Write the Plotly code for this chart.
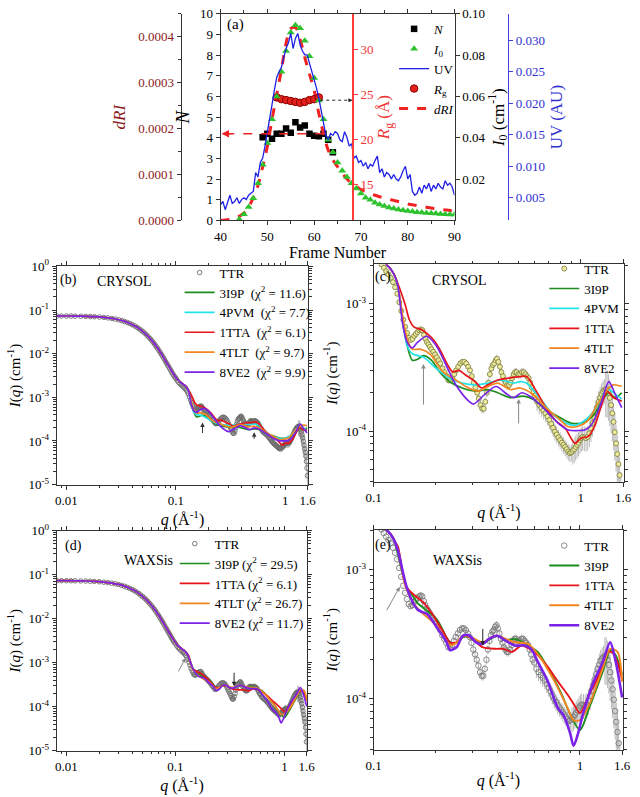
import math
import plotly.graph_objects as go

W, H = 640, 797
FONT = "Liberation Serif, Times New Roman, serif"


def px(x):
    return x / W


def py(y):
    return 1 - y / H


# ---------------- panel (a) data ----------------
UV_FRAMES = [40 + 0.5 * i for i in range(101)]
UV = [0.0039, 0.0044, 0.0031, 0.0041, 0.0054, 0.0041, 0.0044, 0.0050, 0.0041, 0.0047,
      0.0050, 0.0047, 0.0054, 0.0057, 0.0060, 0.0090, 0.0083, 0.0106, 0.0113, 0.0132,
      0.0152, 0.0178, 0.0198, 0.0221, 0.0241, 0.0250, 0.0257, 0.0273, 0.0287, 0.0296,
      0.0311, 0.0287, 0.0303, 0.0311, 0.0293, 0.0283, 0.0277, 0.0277, 0.0264, 0.0250,
      0.0241, 0.0224, 0.0208, 0.0188, 0.0168, 0.0149, 0.0142, 0.0152, 0.0149, 0.0155,
      0.0152, 0.0142, 0.0139, 0.0155, 0.0146, 0.0132, 0.0136, 0.0113, 0.0116, 0.0106,
      0.0109, 0.0100, 0.0106, 0.0096, 0.0103, 0.0100, 0.0109, 0.0116, 0.0090, 0.0096,
      0.0083, 0.0090, 0.0087, 0.0080, 0.0087, 0.0080, 0.0077, 0.0083, 0.0093, 0.0100,
      0.0080, 0.0087, 0.0060, 0.0054, 0.0057, 0.0067, 0.0057, 0.0070, 0.0064, 0.0073,
      0.0060, 0.0070, 0.0064, 0.0073, 0.0067, 0.0064, 0.0077, 0.0070, 0.0073, 0.0067,
      0.0054]

I0_FRAMES = list(range(44, 91))
I0 = [0.0005, 0.0030, 0.0065, 0.0107, 0.0180, 0.0270, 0.0375, 0.0490, 0.0600, 0.0720,
      0.0820, 0.0910, 0.0945, 0.0930, 0.0870, 0.0795, 0.0690, 0.0580, 0.0490, 0.0390,
      0.0330, 0.0280, 0.0240, 0.0210, 0.0180, 0.0155, 0.0130, 0.0110, 0.0100, 0.0085,
      0.0077, 0.0070, 0.0063, 0.0058, 0.0053, 0.0049, 0.0046, 0.0043, 0.0040, 0.0038,
      0.0036, 0.0034, 0.0033, 0.0031, 0.0030, 0.0029, 0.0028]

DRI_FRAMES = list(range(40, 91))
DRI = [0.0, 0.000001, 0.0000022, 0.0000045, 0.000009, 0.0000157, 0.0000292, 0.0000494, 0.0000763, 0.0001167,
       0.0001616, 0.00022, 0.000274, 0.000328, 0.000386, 0.000418, 0.00042, 0.000395, 0.000355, 0.000319,
       0.000283, 0.000233, 0.000189, 0.000153, 0.000132, 0.000117, 0.000103, 0.00009, 0.0000808, 0.000074,
       0.0000674, 0.0000629, 0.0000584, 0.0000548, 0.0000516, 0.0000485, 0.0000458, 0.0000436, 0.0000413, 0.0000386,
       0.0000359, 0.0000341, 0.0000323, 0.0000305, 0.0000287, 0.0000269, 0.0000256, 0.0000242, 0.0000229, 0.0000216,
       0.0000207]

RG_FRAMES = list(range(52, 62))
RG = [24.7, 24.5, 24.4, 24.3, 24.2, 24.1, 24.2, 24.4, 24.5, 24.7]

N_FRAMES = list(range(49, 65))
N_VAL = [4.03, 4.2, 3.95, 4.2, 4.2, 4.45, 4.25, 4.75, 4.5, 4.6, 4.2, 4.1, 4.07, 4.2, 3.9, 3.3]

# ---------------- SAXS data (TTR) ----------------
TTR_Q = [0.0082, 0.0090, 0.0100, 0.0110, 0.0120, 0.0135, 0.0150, 0.0165, 0.0180,
         0.0200, 0.0220, 0.0240, 0.0260, 0.0280, 0.0300, 0.0320, 0.0340, 0.0360, 0.0380,
         0.0400, 0.0420, 0.0440, 0.0460, 0.0480, 0.0500, 0.0520, 0.0540, 0.0560, 0.0580,
         0.0600, 0.0620, 0.0640, 0.0660, 0.0680, 0.0700, 0.0720, 0.0740, 0.0760, 0.0780,
         0.0800, 0.0820, 0.0840, 0.0860, 0.0880, 0.0900, 0.0920, 0.0940, 0.0960, 0.0980,
         0.1000,
         0.1030, 0.1060, 0.1090, 0.1120, 0.1150, 0.1180, 0.1210, 0.1240, 0.1270, 0.1300,
         0.1330, 0.1360, 0.1390, 0.1420, 0.1450, 0.1480,
         0.1510, 0.1540, 0.1570, 0.1600, 0.1630, 0.1660, 0.1690, 0.1720, 0.1750, 0.1780,
         0.1810, 0.1840, 0.1870, 0.1900, 0.1940, 0.1980, 0.2020, 0.2060, 0.2100, 0.2150,
         0.2200, 0.2250, 0.2300, 0.2350, 0.2400, 0.2450, 0.2500, 0.2560, 0.2620, 0.2680,
         0.2740, 0.2800, 0.2860, 0.2920, 0.2980, 0.3040, 0.3100, 0.3160, 0.3220, 0.3280,
         0.3340, 0.3400, 0.3460, 0.3520, 0.3580, 0.3640, 0.3700, 0.3760, 0.3820, 0.3880,
         0.3940, 0.4000, 0.4070, 0.4140, 0.4210, 0.4280, 0.4350, 0.4420, 0.4500, 0.4580,
         0.4660, 0.4740, 0.4820, 0.4900, 0.5000, 0.5100, 0.5200, 0.5300, 0.5400, 0.5500,
         0.5600, 0.5700, 0.5800, 0.5900, 0.6000, 0.6150, 0.6300, 0.6450, 0.6600, 0.6750,
         0.6900, 0.7050, 0.7200, 0.7350, 0.7500, 0.7650, 0.7800, 0.7950, 0.8100, 0.8250,
         0.8400, 0.8550, 0.8700, 0.8850, 0.9000, 0.9150, 0.9300, 0.9450, 0.9600, 0.9750,
         0.9900, 1.0050, 1.0200, 1.0400, 1.0600, 1.0800, 1.1000, 1.1200, 1.1400, 1.1600,
         1.1800, 1.2000, 1.2200, 1.2400, 1.2600, 1.2800, 1.3000, 1.3200, 1.3400, 1.3600,
         1.3800, 1.4000, 1.4200, 1.4400, 1.4600, 1.4800, 1.5000, 1.5200, 1.5400, 1.5600,
         1.5750, 1.5900]
TTR_I = [0.0730, 0.0729, 0.0728, 0.0726, 0.0724, 0.0720, 0.0715, 0.0709, 0.0702,
         0.0690, 0.0676, 0.0660, 0.0641, 0.0620, 0.0597, 0.0572, 0.0546, 0.0518, 0.0490,
         0.0461, 0.0432, 0.0403, 0.0374, 0.0346, 0.0319, 0.0293, 0.0268, 0.0244, 0.0222,
         0.0201, 0.0182, 0.0164, 0.0147, 0.0132, 0.0118, 0.0106, 0.0095, 0.0085, 0.0076,
         0.0068, 0.0061, 0.0055, 0.0050, 0.0045, 0.0041, 0.0037, 0.0034, 0.0031, 0.0029,
         0.0027,
         0.0024, 0.0022, 0.00205, 0.00192, 0.00180, 0.00170, 0.00160, 0.00148, 0.00135, 0.00120,
         0.00103, 0.00088, 0.00075, 0.00066, 0.00059, 0.00054,
         0.00052, 0.00053, 0.00056, 0.00058, 0.00060, 0.00062, 0.00063, 0.00062, 0.00057, 0.00053,
         0.00050, 0.00048, 0.00046, 0.00044, 0.00042, 0.00040, 0.00038, 0.00036, 0.00034, 0.00031,
         0.00029, 0.00027, 0.00025, 0.00025, 0.00026, 0.00028, 0.00030, 0.00032, 0.00034, 0.00035,
         0.00035, 0.00034, 0.00032, 0.00030, 0.00027, 0.00024, 0.00022, 0.00020, 0.00018, 0.00016,
         0.00015, 0.00015, 0.00017, 0.00020, 0.00024, 0.00028, 0.00031, 0.00033, 0.00034, 0.00036,
         0.00037, 0.00035, 0.00032, 0.00029, 0.00027, 0.00025, 0.00024, 0.00023, 0.00023, 0.00024,
         0.00026, 0.00028, 0.00029, 0.00029, 0.00028, 0.00028, 0.00029, 0.00029, 0.00028, 0.00027,
         0.00026, 0.00024, 0.00022, 0.00020, 0.00019, 0.00017, 0.00016, 0.000152, 0.000145, 0.000138,
         0.000130, 0.000122, 0.000114, 0.000106, 0.000099, 0.000094, 0.000089, 0.000085, 0.000081, 0.000078,
         0.000075, 0.000072, 0.000069, 0.000067, 0.000068, 0.000070, 0.000072, 0.000075, 0.000078, 0.000081,
         0.000085, 0.000088, 0.000090, 0.000089, 0.000088, 0.000090, 0.000096, 0.000105, 0.000116, 0.000128,
         0.000141, 0.000155, 0.000170, 0.000183, 0.000195, 0.000204, 0.000210, 0.000214, 0.000212, 0.000200,
         0.000182, 0.000160, 0.000138, 0.000118, 0.000098, 0.000080, 0.000066, 0.000055, 0.000045, 0.000034,
         0.000024, 0.000016]
# relative error level per q band
ERR_BAND_QMAX = [0.15, 0.30, 0.60, 0.90, 1.30, 1.70]
ERR_BAND_REL = [0.01, 0.05, 0.08, 0.15, 0.22, 0.40]

assert len(TTR_Q) == len(TTR_I), (len(TTR_Q), len(TTR_I))

# ---------------- model curves ----------------
MODEL_LOWQ_Q = [0.0082, 0.0100, 0.0120, 0.0150, 0.0180, 0.0220, 0.0260, 0.0300, 0.0340, 0.0380,
                0.0420, 0.0460, 0.0500, 0.0540, 0.0580, 0.0620, 0.0660, 0.0700, 0.0740, 0.0780,
                0.0820, 0.0860, 0.0900, 0.0940, 0.0980, 0.1020, 0.1060, 0.1100, 0.1140, 0.1180,
                0.1220, 0.1260]
MODEL_LOWQ_I = [0.0733, 0.0731, 0.0727, 0.0718, 0.0705, 0.0679, 0.0644, 0.0600, 0.0549, 0.0493,
                0.0435, 0.0377, 0.0321, 0.0270, 0.0224, 0.0184, 0.0150, 0.0121, 0.0097, 0.0078,
                0.0063, 0.0052, 0.0043, 0.0036, 0.0031, 0.0027, 0.0024, 0.00222, 0.00208, 0.00196,
                0.00184, 0.00168]

# CRYSOL fits
CRY_3I9P_Q = [0.1308, 0.1356, 0.1400, 0.1457, 0.1537, 0.1622, 0.1742, 0.1905, 0.2084, 0.232, 0.2677, 0.309,
              0.3566, 0.3971, 0.4581, 0.5286, 0.5886, 0.6792, 0.7838, 0.9045, 1.044, 1.1625, 1.294,
              1.3657, 1.467, 1.5759]
CRY_3I9P_I = [1.38e-3, 9.5e-4, 6.5e-4, 4.6e-4, 3.6e-4, 3.65e-4, 3.92e-4, 3.6e-4, 2.92e-4, 2.45e-4, 2.18e-4,
              2.06e-4, 2.12e-4, 2.0e-4, 1.83e-4, 1.88e-4, 1.78e-4, 1.48e-4, 1.29e-4, 1.15e-4, 1.18e-4,
              1.36e-4, 1.83e-4, 2.0e-4, 1.83e-4, 2.0e-4]
CRY_4PVM_Q = [0.1308, 0.1356, 0.1400, 0.1457, 0.1537, 0.1742, 0.2011, 0.232, 0.2677, 0.309, 0.3566, 0.4114,
              0.4748, 0.5101, 0.548, 0.6323, 0.7296, 0.842, 0.9376, 1.044, 1.1625, 1.294, 1.3657, 1.467,
              1.5759]
CRY_4PVM_I = [1.40e-3, 9.3e-4, 6.3e-4, 4.6e-4, 4.05e-4, 3.8e-4, 3.1e-4, 2.6e-4, 2.38e-4, 2.31e-4, 2.38e-4,
              2.52e-4, 2.38e-4, 2.45e-4, 2.38e-4, 1.83e-4, 1.36e-4, 1.16e-4, 1.11e-4, 1.21e-4, 1.45e-4,
              2.0e-4, 2.12e-4, 1.95e-4, 1.78e-4]
CRY_1TTA_Q = [0.1308, 0.1416, 0.1488, 0.1563, 0.171, 0.184, 0.194, 0.2084, 0.228, 0.2405, 0.2586, 0.2778,
              0.309, 0.3319, 0.3566, 0.3971, 0.4419, 0.5101, 0.548, 0.61, 0.679, 0.756, 0.842, 0.9376,
              1.0, 1.082, 1.1625, 1.249, 1.3414, 1.4409, 1.576]
CRY_1TTA_I = [1.45e-3, 1.0e-3, 7.5e-4, 6.6e-4, 6.25e-4, 5.7e-4, 5.25e-4, 4.4e-4, 3.3e-4, 2.92e-4, 3.0e-4,
              2.76e-4, 2.45e-4, 2.18e-4, 2.31e-4, 2.52e-4, 2.6e-4, 2.68e-4, 2.68e-4, 2.06e-4, 1.53e-4,
              1.21e-4, 1.05e-4, 8.0e-5, 8.8e-5, 9.05e-5, 1.08e-4, 1.53e-4, 2.05e-4, 1.83e-4, 1.72e-4]
CRY_4TLT_Q = [0.1308, 0.1400, 0.1457, 0.1537, 0.168, 0.1872, 0.216, 0.2493, 0.2876, 0.3203, 0.3566, 0.3971,
              0.4581, 0.5101, 0.5886, 0.6792, 0.7838, 0.8727, 0.9718, 1.082, 1.2049, 1.3414, 1.4409,
              1.5759]
CRY_4TLT_I = [1.40e-3, 7.0e-4, 5.2e-4, 4.4e-4, 4.4e-4, 4.03e-4, 2.92e-4, 2.52e-4, 2.18e-4, 2.06e-4, 2.24e-4,
              2.38e-4, 2.12e-4, 2.18e-4, 1.94e-4, 1.53e-4, 1.25e-4, 1.08e-4, 1.09e-4, 1.21e-4, 1.63e-4,
              2.12e-4, 2.31e-4, 2.24e-4]
CRY_8VE2_Q = [0.1308, 0.1380, 0.1450, 0.1537, 0.1622, 0.1806, 0.2011, 0.2239, 0.2493, 0.2876, 0.3034,
              0.344, 0.3899, 0.4419, 0.4748, 0.5193, 0.5679, 0.6323, 0.704, 0.7838, 0.8727, 0.9718, 1.044,
              1.1215, 1.2489, 1.3657, 1.467, 1.5759]
CRY_8VE2_I = [1.40e-3, 7.0e-4, 5.0e-4, 4.5e-4, 4.95e-4, 5.56e-4, 4.67e-4, 3.29e-4, 2.31e-4, 1.72e-4, 1.63e-4,
              1.94e-4, 2.24e-4, 1.94e-4, 1.83e-4, 2.0e-4, 1.88e-4, 1.63e-4, 1.36e-4, 1.14e-4, 1.02e-4,
              1.01e-4, 1.02e-4, 1.11e-4, 1.63e-4, 2.45e-4, 1.94e-4, 1.53e-4]

# WAXSis fits
WAX_3I9P_Q = [0.1312, 0.1437, 0.1573, 0.1632, 0.1754, 0.2027, 0.2344, 0.2521, 0.2711, 0.2915, 0.3134,
              0.3367, 0.3622, 0.3962, 0.4346, 0.4839, 0.5598, 0.624, 0.6969, 0.8016, 0.8956, 1.0, 1.11,
              1.29, 1.40, 1.49, 1.60]
WAX_3I9P_I = [1.3e-3, 7.5e-4, 6.0e-4, 5.5e-4, 5.0e-4, 4.1e-4, 2.73e-4, 2.7e-4, 3.0e-4, 3.0e-4, 2.8e-4,
              2.65e-4, 2.85e-4, 3.05e-4, 2.85e-4, 2.9e-4, 2.58e-4, 2.3e-4, 1.73e-4, 1.14e-4, 7.6e-5, 5.7e-5,
              8.55e-5, 1.62e-4, 2.37e-4, 2.17e-4, 1.53e-4]
WAX_1TTA_Q = [0.1312, 0.1437, 0.1573, 0.1754, 0.1954, 0.218, 0.2344, 0.2521, 0.2761, 0.3023, 0.3367, 0.3897,
              0.4269, 0.4676, 0.5209, 0.57, 0.624, 0.6969, 0.7778, 0.8681, 0.935, 1.0, 1.11, 1.24, 1.36,
              1.44, 1.52, 1.60]
WAX_1TTA_I = [1.5e-3, 7.35e-4, 6.35e-4, 5.5e-4, 4.36e-4, 3.26e-4, 2.73e-4, 2.73e-4, 3.07e-4, 2.9e-4, 2.5e-4,
              2.43e-4, 2.43e-4, 2.3e-4, 2.58e-4, 2.43e-4, 2.17e-4, 1.77e-4, 1.37e-4, 1.08e-4, 9.0e-5,
              7.7e-5, 1.08e-4, 1.53e-4, 2.3e-4, 2.25e-4, 1.9e-4, 1.4e-4]
WAX_4TLT_Q = [0.1312, 0.1437, 0.1632, 0.2027, 0.2344, 0.2521, 0.2711, 0.3023, 0.3367, 0.3897, 0.4839,
              0.5598, 0.6457, 0.75, 0.8681, 0.93, 1.0, 1.11, 1.29, 1.40, 1.52, 1.60]
WAX_4TLT_I = [1.4e-3, 7.2e-4, 5.0e-4, 3.65e-4, 2.6e-4, 2.7e-4, 3.07e-4, 2.95e-4, 2.73e-4, 3.07e-4, 2.73e-4,
              2.65e-4, 2.05e-4, 1.37e-4, 8.55e-5, 6.8e-5, 6.8e-5, 9.0e-5, 1.72e-4, 2.43e-4, 2.3e-4, 1.35e-4]
WAX_8VE2_Q = [0.1312, 0.146, 0.1632, 0.182, 0.2027, 0.226, 0.2344, 0.2521, 0.2711, 0.2915, 0.3134, 0.3367,
              0.3622, 0.3962, 0.4346, 0.4839, 0.5394, 0.58, 0.624, 0.6969, 0.7778, 0.8334, 0.8956, 0.9306,
              0.98, 1.034, 1.15, 1.29, 1.40, 1.49, 1.60]
WAX_8VE2_I = [1.4e-3, 6.96e-4, 4.9e-4, 4.5e-4, 3.55e-4, 2.73e-4, 2.37e-4, 2.5e-4, 3.07e-4, 3.07e-4, 2.73e-4,
              2.65e-4, 2.9e-4, 3.07e-4, 2.82e-4, 2.58e-4, 2.58e-4, 2.43e-4, 1.93e-4, 1.37e-4, 8.55e-5,
              7.4e-5, 5.4e-5, 4.3e-5, 5.4e-5, 7.6e-5, 1.28e-4, 1.93e-4, 2.73e-4, 1.93e-4, 1.02e-4]

GREEN, CYAN, RED, ORANGE, PURPLE = "#1e8c1e", "#22e3ea", "#e8141c", "#f5851f", "#7b22e8"

CRYSOL_MODELS = [
    ("3I9P", "11.6", CRY_3I9P_Q, CRY_3I9P_I, GREEN),
    ("4PVM", "7.7", CRY_4PVM_Q, CRY_4PVM_I, CYAN),
    ("1TTA", "6.1", CRY_1TTA_Q, CRY_1TTA_I, RED),
    ("4TLT", "9.7", CRY_4TLT_Q, CRY_4TLT_I, ORANGE),
    ("8VE2", "9.9", CRY_8VE2_Q, CRY_8VE2_I, PURPLE),
]
WAXSIS_MODELS = [
    ("3I9P", "29.5", WAX_3I9P_Q, WAX_3I9P_I, GREEN),
    ("1TTA", "6.1", WAX_1TTA_Q, WAX_1TTA_I, RED),
    ("4TLT", "26.7", WAX_4TLT_Q, WAX_4TLT_I, ORANGE),
    ("8VE2", "11.7", WAX_8VE2_Q, WAX_8VE2_I, PURPLE),
]

for nm, chi, qq, ii, c in CRYSOL_MODELS + WAXSIS_MODELS:
    assert len(qq) == len(ii), nm


def ttr_err():
    out = []
    for q, i in zip(TTR_Q, TTR_I):
        rel = ERR_BAND_REL[-1]
        for qm, r in zip(ERR_BAND_QMAX, ERR_BAND_REL):
            if q <= qm:
                rel = r
                break
        out.append(rel * i)
    return out


TTR_ERR = ttr_err()

fig = go.Figure()

# ---------------- panel (a) traces ----------------
fig.add_trace(go.Scatter(x=N_FRAMES, y=N_VAL, mode="markers", name="<i>N</i>",
                         marker=dict(symbol="square", size=6.5, color="black"),
                         xaxis="x", yaxis="y", legend="legend"))
fig.add_trace(go.Scatter(x=I0_FRAMES, y=I0, mode="markers", name="<i>I</i><sub>0</sub>",
                         marker=dict(symbol="triangle-up", size=7, color="#2ec22e"),
                         xaxis="x", yaxis="y4", legend="legend"))
fig.add_trace(go.Scatter(x=UV_FRAMES, y=UV, mode="lines", name="UV",
                         line=dict(color="#1f1fe6", width=1.3),
                         xaxis="x", yaxis="y5", legend="legend"))
fig.add_trace(go.Scatter(x=RG_FRAMES, y=RG, mode="markers", name="<i>R</i><sub>g</sub>",
                         marker=dict(symbol="circle", size=7.5, color="#e3201c",
                                     line=dict(color="#8a0000", width=1)),
                         xaxis="x", yaxis="y3", legend="legend"))
fig.add_trace(go.Scatter(x=DRI_FRAMES, y=DRI, mode="lines", name="<i>dRI</i>",
                         line=dict(color="#f02222", width=3, dash="dash", shape="spline"),
                         xaxis="x", yaxis="y2", legend="legend"))


# ---------------- SAXS panels ----------------
def add_saxs(xa, ya, leg, models, data_style, label_fmt, widths=None):
    fig.add_trace(go.Scatter(x=TTR_Q, y=TTR_I, mode="markers", name="TTR",
                             marker=data_style,
                             error_y=dict(type="data", array=TTR_ERR, color="#a8a8a8",
                                          thickness=0.8, width=0),
                             xaxis=xa, yaxis=ya, legend=leg))
    for nm, chi, qq, ii, c in models:
        w = (widths or {}).get(nm, 1.7)
        fig.add_trace(go.Scatter(x=MODEL_LOWQ_Q + qq, y=MODEL_LOWQ_I + ii, mode="lines",
                                 name=label_fmt(nm, chi),
                                 line=dict(color=c, width=w, shape="spline", smoothing=0.8),
                                 xaxis=xa, yaxis=ya, legend=leg))


open_gray = dict(symbol="circle-open", size=4.5, color="#6a6a6a", line=dict(width=0.9))
yellow = dict(symbol="circle", size=5, color="#ecea9c", line=dict(color="#77773a", width=0.8))
open_gray_e = dict(symbol="circle-open", size=5.5, color="#7a7a7a", line=dict(width=0.9))

add_saxs("x2", "y6", "legend2", CRYSOL_MODELS, open_gray,
         lambda n, c: f"{n}\u00a0\u00a0(χ<sup>2</sup> = {c})")
add_saxs("x3", "y7", "legend3", CRYSOL_MODELS, yellow, lambda n, c: n)
add_saxs("x4", "y8", "legend4", WAXSIS_MODELS, open_gray,
         lambda n, c: f"{n} (χ<sup>2</sup> = {c})")
add_saxs("x5", "y9", "legend5", WAXSIS_MODELS, open_gray_e, lambda n, c: n,
         widths={"8VE2": 2.6, "3I9P": 1.9, "1TTA": 1.9, "4TLT": 1.9})

# ---------------- axes ----------------
TICKFONT = dict(family=FONT, size=13, color="black")
AX = dict(showgrid=False, zeroline=False, showline=True, linecolor="#333333", linewidth=1,
          ticks="outside", ticklen=4, tickcolor="#333333", tickfont=TICKFONT)

layout = dict(
    width=W, height=H, margin=dict(l=0, r=0, t=0, b=0),
    paper_bgcolor="white", plot_bgcolor="white",
    font=dict(family=FONT, size=13, color="black"),
)

# panel (a)
layout["xaxis"] = dict(AX, domain=[px(218), px(458)], range=[40, 90], anchor="y",
                       tickvals=[40, 50, 60, 70, 80, 90], mirror="ticks",
                       minor=dict(ticks="outside", ticklen=3, dtick=5, tickcolor="#333333"),
                       title=dict(text="Frame Number", font=dict(family=FONT, size=16), standoff=0))
layout["yaxis"] = dict(AX, domain=[py(216), py(5)], range=[0, 10], anchor="x",
                       tickvals=list(range(0, 11)),
                       title=dict(text="<i>N</i>", font=dict(family=FONT, size=19), standoff=5))
DRED = "#8b1a1a"
layout["yaxis2"] = dict(AX, overlaying="y", anchor="free", position=px(177), side="left",
                        range=[0, 0.00045], tickvals=[0, 0.0001, 0.0002, 0.0003, 0.0004],
                        ticktext=["0.0000", "0.0001", "0.0002", "0.0003", "0.0004"],
                        tickfont=dict(family=FONT, size=13, color=DRED),
                        minor=dict(ticks="outside", ticklen=3, dtick=0.00005, tickcolor="#333333"),
                        title=dict(text="<i>dRI</i>", font=dict(family=FONT, size=17, color=DRED),
                                   standoff=7))
RGRED = "#f03535"
layout["yaxis3"] = dict(AX, overlaying="y", anchor="free", position=px(354), side="right",
                        range=[11, 34], tickvals=[15, 20, 25, 30], linecolor="#ff3c3c", linewidth=1.5,
                        tickcolor="#ff3c3c", tickfont=dict(family=FONT, size=13, color=RGRED),
                        title=dict(text="<i>R</i><sub>g</sub> (Å)",
                                   font=dict(family=FONT, size=17, color=RGRED), standoff=4))
layout["yaxis4"] = dict(AX, overlaying="y", anchor="x", side="right", range=[0, 0.1],
                        tickvals=[0.02, 0.04, 0.06, 0.08, 0.10],
                        ticktext=["0.02", "0.04", "0.06", "0.08", "0.10"],
                        title=dict(text="<i>I</i><sub>0</sub> (cm<sup>-1</sup>)",
                                   font=dict(family=FONT, size=17), standoff=6))
BLUE = "#3030d0"
layout["yaxis5"] = dict(AX, overlaying="y", anchor="free", position=px(513), side="right",
                        range=[0.0014, 0.0342], tickvals=[0.005, 0.010, 0.015, 0.020, 0.025, 0.030],
                        ticktext=["0.005", "0.010", "0.015", "0.020", "0.025", "0.030"],
                        linecolor="#4040e0", tickcolor="#4040e0",
                        tickfont=dict(family=FONT, size=13, color=BLUE),
                        title=dict(text="UV (AU)", font=dict(family=FONT, size=17, color=BLUE),
                                   standoff=6))


def log_minor(e0, e1):
    return [k * 10 ** e for e in range(e0, e1) for k in range(2, 10)]


def sup(e):
    return f"10<sup>{e}</sup>"


QTITLE = dict(text="<i>q</i> (Å<sup>-1</sup>)", font=dict(family=FONT, size=16), standoff=2)
ITITLE = dict(text="<i>I</i>(<i>q</i>) (cm<sup>-1</sup>)", font=dict(family=FONT, size=15), standoff=4)
SAXS_AX = dict(AX, type="log", mirror="ticks")


def saxs_axes(xn, yn, xdom, ydom, xr, yr, xticks, yticks, xa, ya):
    layout[xn] = dict(SAXS_AX, domain=xdom, range=xr, anchor=ya,
                      tickvals=xticks, ticktext=[str(t) for t in xticks],
                      minor=dict(ticks="outside", ticklen=2.5, tickvals=log_minor(-3, 1),
                                 tickcolor="#333333"),
                      title=QTITLE)
    layout[yn] = dict(SAXS_AX, domain=ydom, range=yr, anchor=xa,
                      tickvals=[10 ** e for e in yticks], ticktext=[sup(e) for e in yticks],
                      minor=dict(ticks="outside", ticklen=2.5, tickvals=log_minor(-6, 1),
                                 tickcolor="#333333"),
                      title=ITITLE)


XR_FULL = [math.log10(0.00815), math.log10(1.62)]
XR_ZOOM = [-1, math.log10(1.62)]
YR_ZOOM = [math.log10(4.0e-5), math.log10(2.04e-3)]
saxs_axes("xaxis2", "yaxis6", [px(50), px(308)], [py(486), py(263)], XR_FULL, [-5, 0],
          [0.01, 0.1, 1, 1.6], [0, -1, -2, -3, -4, -5], "x2", "y6")
saxs_axes("xaxis3", "yaxis7", [px(375), px(632)], [py(483), py(261)], XR_ZOOM, YR_ZOOM,
          [0.1, 1, 1.6], [-3, -4], "x3", "y7")
saxs_axes("xaxis4", "yaxis8", [px(50), px(307)], [py(758), py(533)], XR_FULL, [-5, 0],
          [0.01, 0.1, 1, 1.6], [0, -1, -2, -3, -4, -5], "x4", "y8")
saxs_axes("xaxis5", "yaxis9", [px(375), px(631)], [py(757), py(532)], XR_ZOOM, YR_ZOOM,
          [0.1, 1, 1.6], [-3, -4], "x5", "y9")


def leg(x, y, size=13):
    return dict(x=px(x), y=py(y), xanchor="left", yanchor="top", bgcolor="rgba(0,0,0,0)",
                font=dict(family=FONT, size=size, color="black"), itemwidth=30,
                tracegroupgap=0, borderwidth=0)


layout["legend"] = leg(396, 5)
layout["legend2"] = leg(176, 254)
layout["legend3"] = leg(550, 250)
layout["legend4"] = leg(171, 531)
layout["legend5"] = leg(550, 533)

# ---------------- annotations ----------------
ann = []


def ptext(x, y, t, size=14, color="black"):
    ann.append(dict(xref="paper", yref="paper", x=px(x), y=py(y), text=t, showarrow=False,
                    font=dict(family=FONT, size=size, color=color), xanchor="center", yanchor="middle"))


ptext(233, 16, "(a)", 15)
ptext(62, 277, "(b)", 14)
ptext(119, 278, "CRYSOL", 14)
ptext(385, 274, "(c)", 14)
ptext(463, 277, "CRYSOL", 14)
ptext(67, 549, "(d)", 14)
ptext(144, 564, "WAXSis", 14)
ptext(385, 548, "(e)", 14)
ptext(461, 564, "WAXSis", 14)


def arrow(xa, ya, q, i, ax, ay, color):
    ann.append(dict(xref=xa, yref=ya, x=math.log10(q), y=math.log10(i), ax=ax, ay=ay, text="",
                    showarrow=True, arrowhead=2, arrowsize=0.9, arrowwidth=1, arrowcolor=color))


arrow("x2", "y6", 0.175, 2.65e-4, 0, 12, "#333333")
arrow("x2", "y6", 0.519, 1.58e-4, 0, 8, "#333333")
arrow("x3", "y7", 0.174, 3.36e-4, 0, 42, "#888888")
arrow("x3", "y7", 0.501, 1.79e-4, 0, 26, "#888888")
arrow("x4", "y8", 0.124, 1.29e-3, -8, 15, "#888888")
arrow("x4", "y8", 0.345, 2.93e-4, 0, -15, "#222222")
arrow("x5", "y9", 0.134, 7.35e-4, -14, 25, "#888888")
arrow("x5", "y9", 0.338, 2.58e-4, 0, -18, "#222222")

# panel (a) guide arrows
ann.append(dict(xref="x", yref="y", x=40.2, y=4.2, ax=42.5, ay=4.2, axref="x", ayref="y", text="",
                showarrow=True, arrowhead=2, arrowsize=1, arrowwidth=1.5, arrowcolor="#f02222"))
ann.append(dict(xref="x", yref="y", x=68.2, y=5.82, ax=67.0, ay=5.82, axref="x", ayref="y", text="",
                showarrow=True, arrowhead=2, arrowsize=0.8, arrowwidth=1, arrowcolor="#222222"))
layout["annotations"] = ann
layout["shapes"] = [
    dict(type="line", xref="x", yref="y", x0=41.0, x1=63.2, y0=4.2, y1=4.2,
         line=dict(color="#f02222", width=1.5, dash="dash")),
    dict(type="line", xref="x", yref="y", x0=61.3, x1=67.6, y0=5.82, y1=5.82,
         line=dict(color="#222222", width=1, dash="dot")),
]

fig.update_layout(**layout)
fig.write_html("out.html")
